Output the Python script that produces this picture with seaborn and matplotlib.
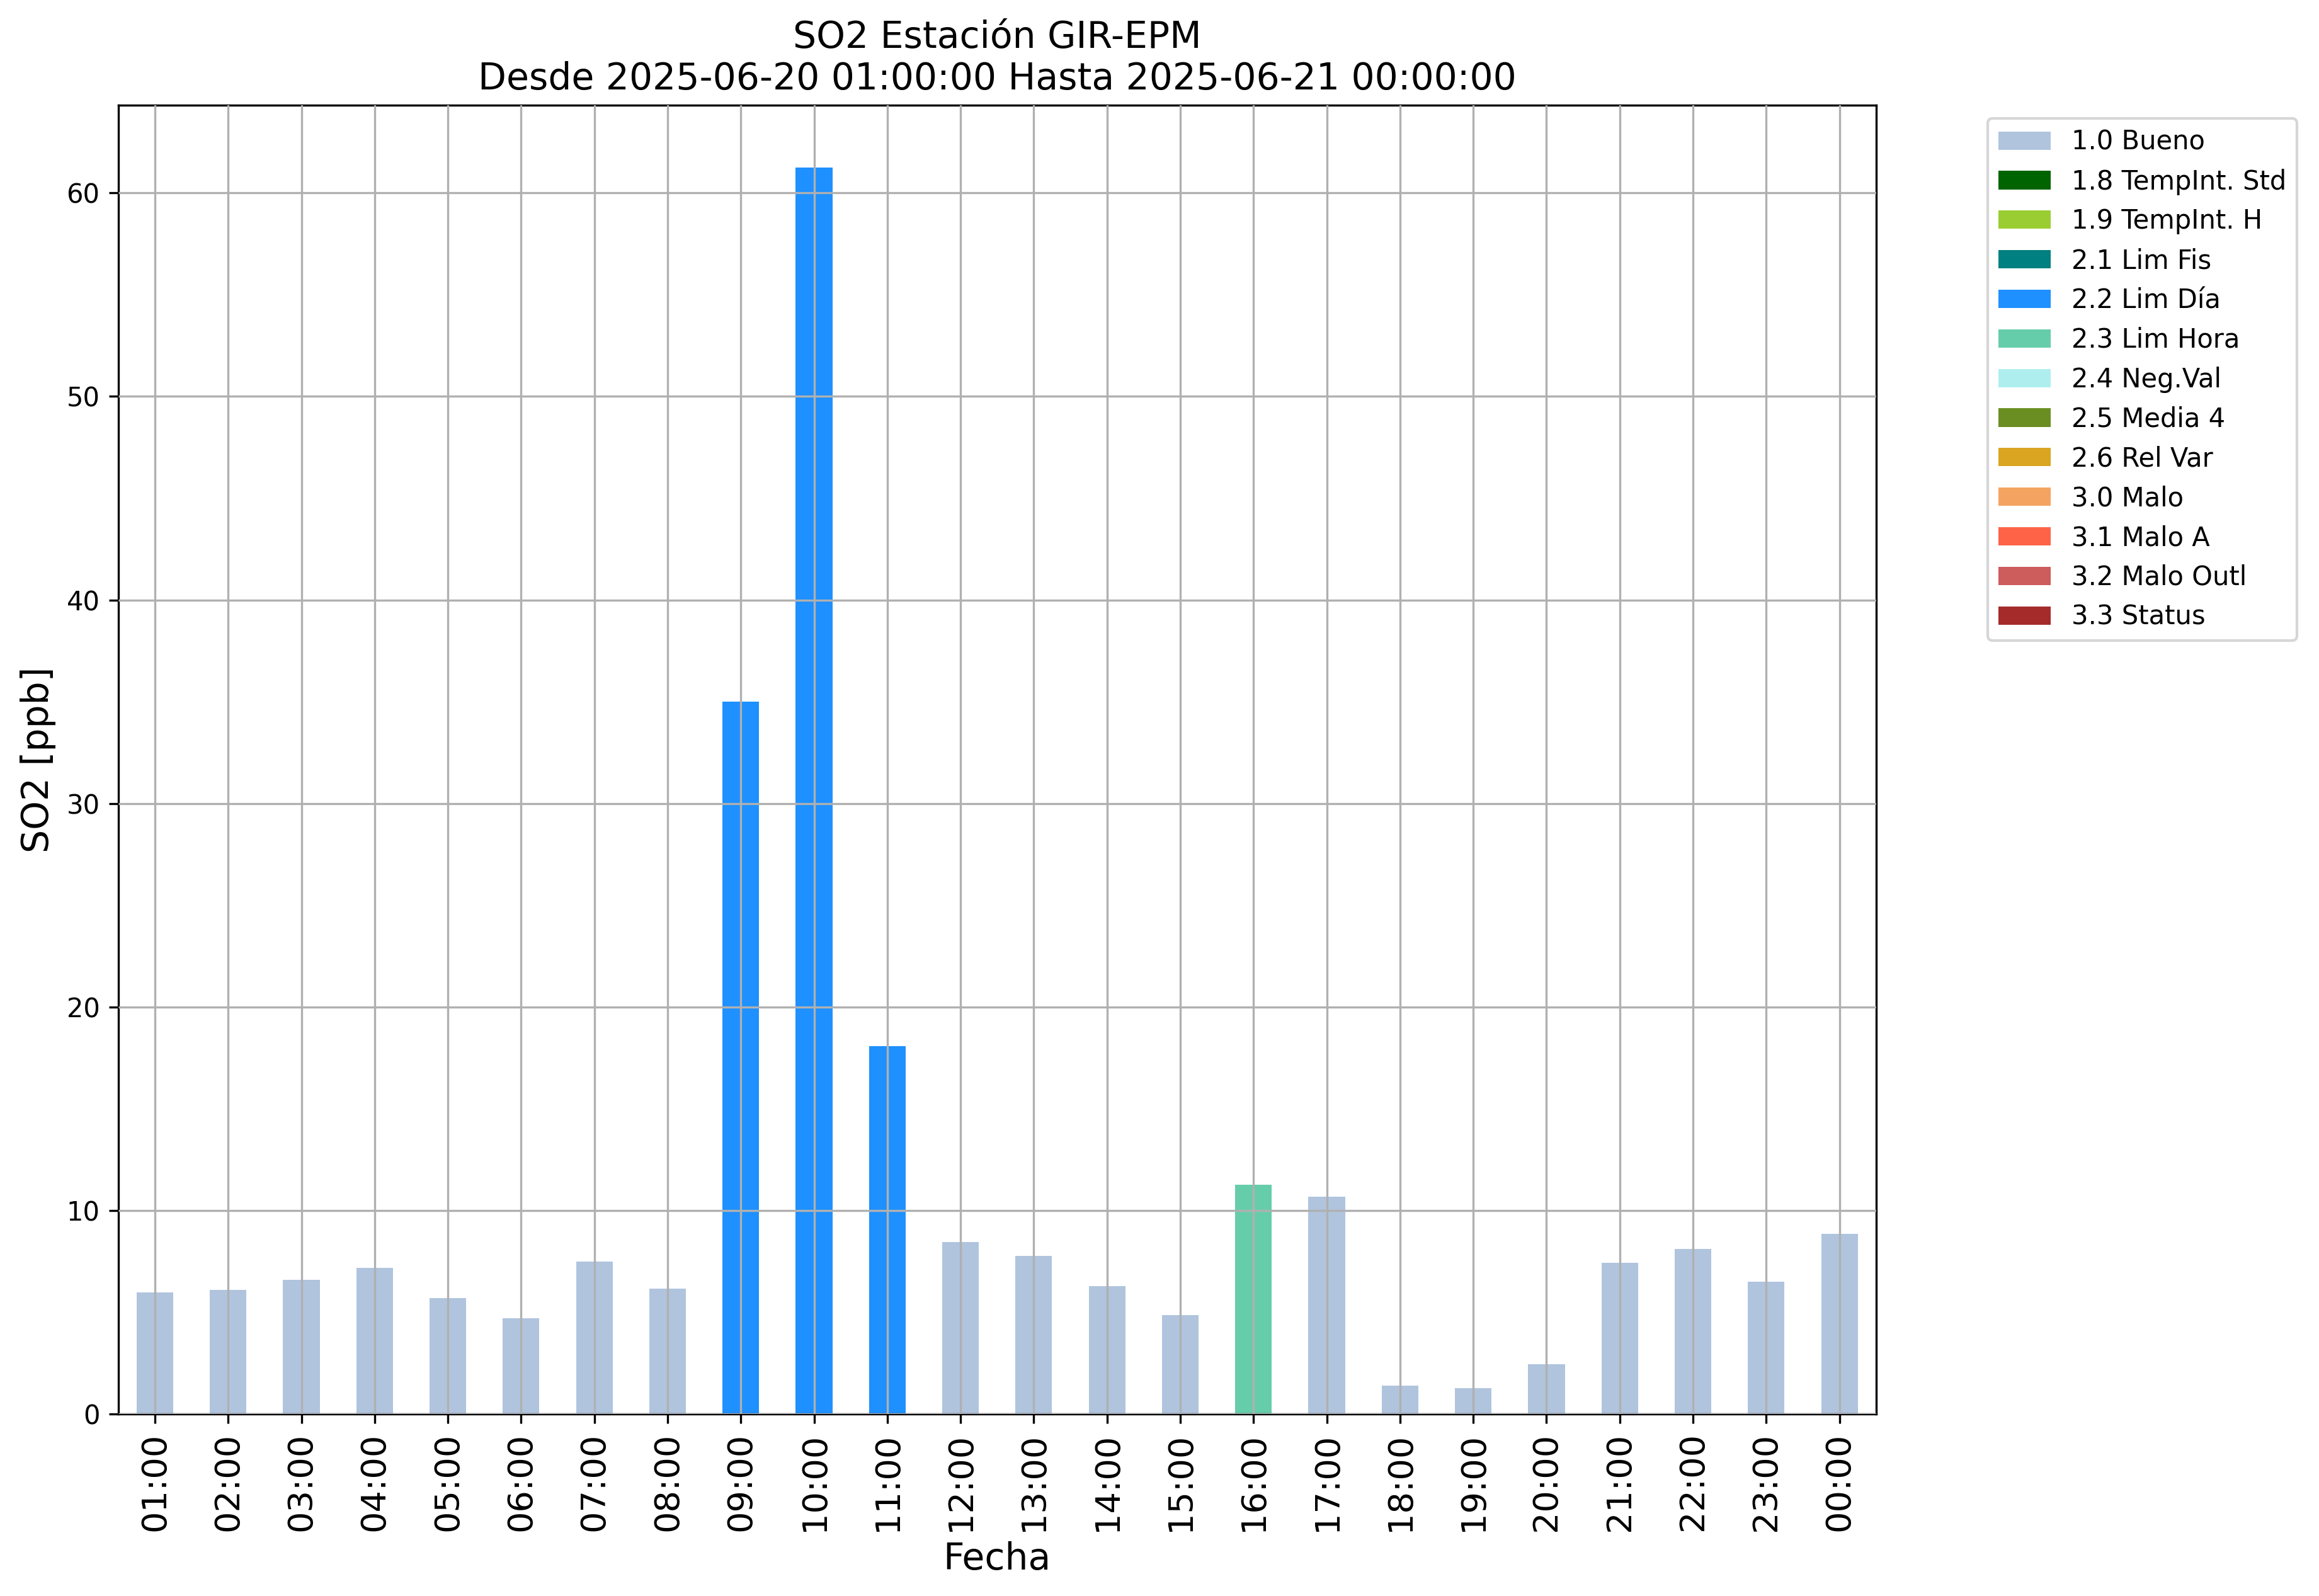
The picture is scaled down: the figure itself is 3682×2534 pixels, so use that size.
import pandas as pd
import seaborn as sns
import matplotlib.pyplot as plt
from matplotlib.patches import Patch

# Datos horarios de SO2 ---------------------------------------------------
horas = ['01:00', '02:00', '03:00', '04:00', '05:00', '06:00', '07:00', '08:00',
         '09:00', '10:00', '11:00', '12:00', '13:00', '14:00', '15:00', '16:00',
         '17:00', '18:00', '19:00', '20:00', '21:00', '22:00', '23:00', '00:00']
so2 = [5.97, 6.09, 6.59, 7.18, 5.69, 4.70, 7.49, 6.16,
       35.0, 61.24, 18.08, 8.45, 7.77, 6.28, 4.85, 11.27,
       10.68, 1.39, 1.26, 2.45, 7.43, 8.11, 6.50, 8.85]
bandera = ['1.0 Bueno'] * 8 + ['2.2 Lim Día'] * 3 + ['1.0 Bueno'] * 4 + \
          ['2.3 Lim Hora'] + ['1.0 Bueno'] * 8

# Banderas de calidad y sus colores
etiquetas = ['1.0 Bueno', '1.8 TempInt. Std', '1.9 TempInt. H', '2.1 Lim Fis',
             '2.2 Lim Día', '2.3 Lim Hora', '2.4 Neg.Val', '2.5 Media 4',
             '2.6 Rel Var', '3.0 Malo', '3.1 Malo A', '3.2 Malo Outl', '3.3 Status']
colores = ['lightsteelblue', 'darkgreen', 'yellowgreen', 'teal',
           'dodgerblue', 'mediumaquamarine', 'paleturquoise', 'olivedrab',
           'goldenrod', 'sandybrown', 'tomato', 'indianred', 'brown']

df = pd.DataFrame({'Fecha': horas, 'SO2': so2, 'Bandera': bandera})
paleta = dict(zip(etiquetas, colores))

fig, ax = plt.subplots(figsize=(3682 / 300, 2534 / 300), dpi=300)
fig.subplots_adjust(left=0.051, right=0.809, top=0.934, bottom=0.114)

sns.barplot(data=df, x='Fecha', y='SO2', hue='Bandera', order=horas,
            hue_order=etiquetas, palette=paleta, dodge=False, width=0.5,
            saturation=1, legend=False, ax=ax)

ax.grid(True, color='#b0b0b0', linewidth=0.8)
ax.set_axisbelow(False)
ax.set_xlim(-0.5, len(horas) - 0.5)

ax.set_title('SO2 Estación GIR-EPM\nDesde 2025-06-20 01:00:00 Hasta 2025-06-21 00:00:00',
             fontsize=14)
ax.set_xlabel('Fecha', fontsize=14)
ax.set_ylabel('SO2 [ppb]', fontsize=14)
ax.tick_params(axis='x', labelrotation=90, labelsize=13)
ax.tick_params(axis='y', labelsize=10)

# Leyenda con todas las banderas, aunque no aparezcan en los datos
handles = [Patch(facecolor=c, label=l) for l, c in zip(etiquetas, colores)]
ax.legend(handles=handles, bbox_to_anchor=(1.056, 1), loc='upper left', fontsize=10)

fig.savefig('out.png', dpi=300)
